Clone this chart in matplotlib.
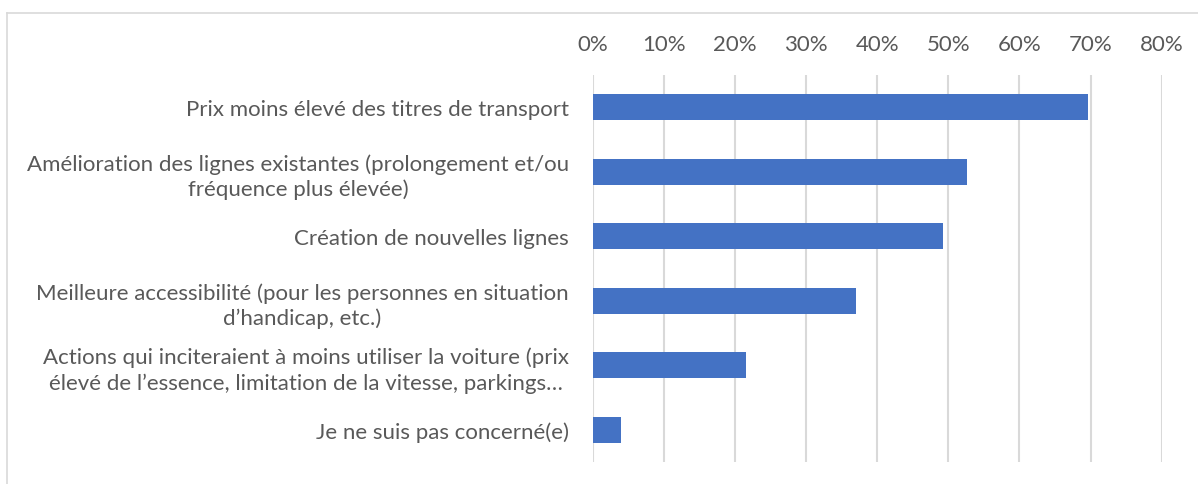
import matplotlib.pyplot as plt
from matplotlib.ticker import PercentFormatter
from matplotlib.lines import Line2D

# données du graphique
categories = [
    "Prix moins élevé des titres de transport",
    "Amélioration des lignes existantes (prolongement et/ou\nfréquence plus élevée)",
    "Création de nouvelles lignes",
    "Meilleure accessibilité (pour les personnes en situation\nd’handicap, etc.)",
    "Actions qui inciteraient à moins utiliser la voiture (prix\nélevé de l’essence, limitation de la vitesse, parkings…",
    "Je ne suis pas concerné(e)",
]
values = [69.7, 52.7, 49.3, 37.1, 21.6, 4.0]
xticks = [0, 10, 20, 30, 40, 50, 60, 70, 80]

plt.rcParams['font.family'] = ['Lato', 'DejaVu Sans']
text_color = '#595959'
fsize = 16

fig = plt.figure(figsize=(11.98, 4.85), dpi=100)
ax = fig.add_axes([0.4946, 0.0454, 0.4751, 0.7979])

ypos = list(range(len(categories)))
ax.barh(ypos, values, height=0.4, color='#4472C4', zorder=3)

ax.set_xlim(0, 80)
ax.set_ylim(len(categories) - 0.5, -0.5)
ax.set_xticks(xticks)
ax.xaxis.set_major_formatter(PercentFormatter(decimals=0))
ax.xaxis.tick_top()
ax.tick_params(axis='x', length=0, pad=15, labelsize=fsize, labelcolor=text_color)

ax.set_yticks(ypos)
ax.set_yticklabels(categories, multialignment='center', linespacing=1.3)
ax.tick_params(axis='y', length=0, pad=17, labelsize=fsize, labelcolor=text_color)

ax.grid(axis='x', color='#D9D9D9', linewidth=1.5, zorder=0)
for s in ax.spines.values():
    s.set_visible(False)

# cadre du graphique (bord haut et gauche visibles)
fig.add_artist(Line2D([7 / 1198, 1], [1 - 14 / 485, 1 - 14 / 485], color='#D9D9D9', lw=1.2))
fig.add_artist(Line2D([7 / 1198, 7 / 1198], [0, 1 - 14 / 485], color='#D9D9D9', lw=1.2))

fig.savefig('out.png', dpi=100)
